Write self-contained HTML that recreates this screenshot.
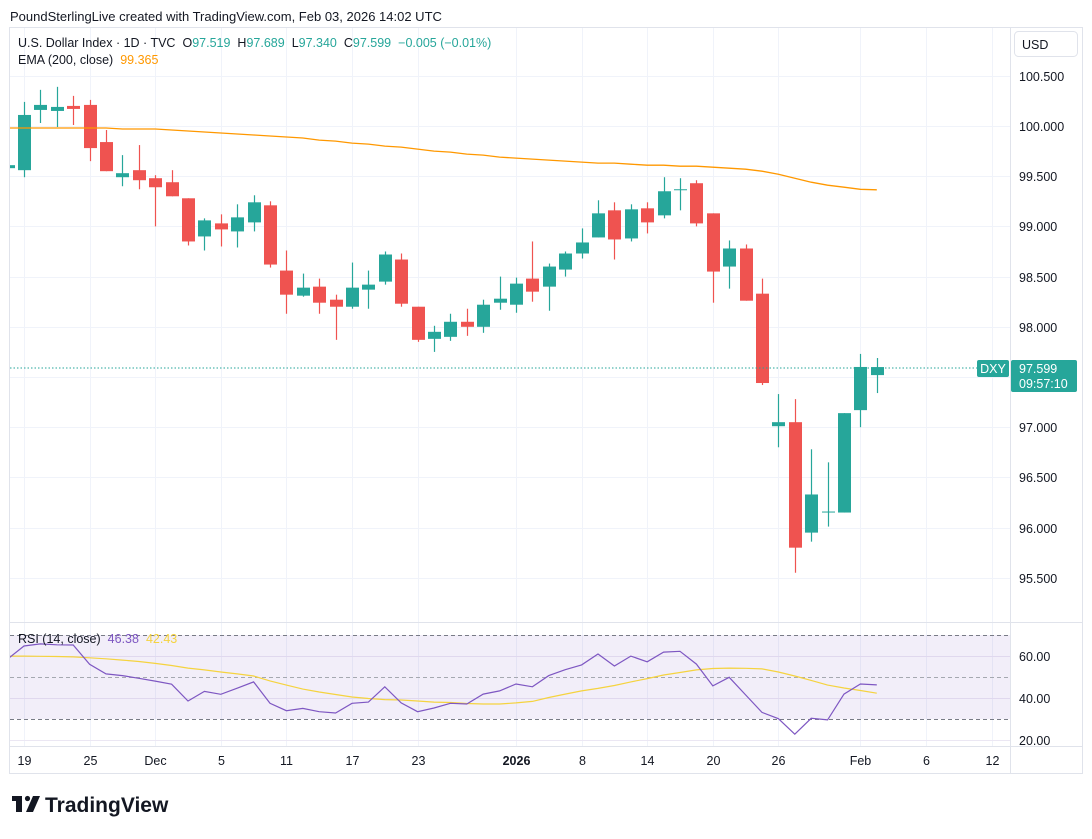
<!DOCTYPE html>
<html><head><meta charset="utf-8"><style>
html,body{margin:0;padding:0;background:#fff;}
body{width:1092px;height:834px;overflow:hidden;font-family:"Liberation Sans",sans-serif;}
svg text{font-family:"Liberation Sans",sans-serif;}
</style></head><body>
<svg id="chart" width="1092" height="834" xmlns="http://www.w3.org/2000/svg">
<rect x="0" y="0" width="1092" height="834" fill="#ffffff"/>
<text x="10" y="21" font-size="13" fill="#131722">PoundSterlingLive created with TradingView.com, Feb 03, 2026 14:02 UTC</text>
<rect x="9.5" y="27.5" width="1073" height="746" fill="none" stroke="#e0e3eb"/>
<g id="grid"></g>
<rect x="10" y="635" width="1000" height="84" fill="rgba(126,87,194,0.1)"/>
<g id="rsiLines"></g>
<line x1="10" y1="622.5" x2="1083" y2="622.5" stroke="#e0e3eb"/>
<line x1="10" y1="746.5" x2="1083" y2="746.5" stroke="#e0e3eb"/>
<line x1="1010.5" y1="28" x2="1010.5" y2="773" stroke="#e0e3eb"/>
<defs><clipPath id="mainClip"><rect x="10" y="28" width="1000" height="594"/></clipPath><clipPath id="rsiClip"><rect x="10" y="623" width="1000" height="123"/></clipPath></defs>
<g id="candles" clip-path="url(#mainClip)"></g>
<g id="ema" clip-path="url(#mainClip)"></g>
<g id="rsi" clip-path="url(#rsiClip)"></g>
<g id="axes"></g>
<g font-size="12.5">
<text x="18" y="47" fill="#131722">U.S. Dollar Index · 1D · TVC<tspan dx="7">O</tspan><tspan fill="#26a69a">97.519</tspan><tspan dx="7">H</tspan><tspan fill="#26a69a">97.689</tspan><tspan dx="7">L</tspan><tspan fill="#26a69a">97.340</tspan><tspan dx="7">C</tspan><tspan fill="#26a69a">97.599</tspan><tspan dx="7" fill="#26a69a">−0.005 (−0.01%)</tspan></text>
<text x="18" y="64" fill="#131722">EMA (200, close)<tspan dx="7" fill="#ff9800">99.365</tspan></text>
</g>
<g font-size="12.5">
<text x="18" y="643" fill="#131722">RSI (14, close)<tspan dx="7" fill="#7e57c2">46.38</tspan><tspan dx="7" fill="#f5d33f">42.43</tspan></text>
</g>
<rect x="1014.5" y="31.5" width="63" height="25" rx="4" fill="#fff" stroke="#e0e3eb"/>
<text x="1022" y="49" font-size="12.5" fill="#131722">USD</text>
<line x1="10" y1="368" x2="1010" y2="368" stroke="#26a69a" stroke-dasharray="1.5,2"/>
<rect x="977" y="360" width="32" height="17" rx="2" fill="#26a69a"/>
<text x="993" y="373" font-size="12.5" fill="#fff" text-anchor="middle">DXY</text>
<rect x="1011" y="360" width="66" height="32" rx="2" fill="#26a69a"/>
<text x="1019" y="373" font-size="12.5" fill="#fff">97.599</text>
<text x="1019" y="388" font-size="12.5" fill="#fff">09:57:10</text>
<g>
<rect x="12" y="796" width="10" height="5" fill="#131722"/><rect x="16" y="796" width="6" height="16" fill="#131722"/>
<circle cx="27.5" cy="798.5" r="2.6" fill="#131722"/>
<polygon points="33,796 40,796 33,812 26,812" fill="#131722"/>
<text x="45" y="812" font-size="21" font-weight="bold" fill="#131722">TradingView</text>
</g>
</svg>
<script>
// Price data (index -1 .. 52)
const opens  = [99.58,99.56,100.16,100.15,100.20,100.21,99.84,99.49,99.56,99.48,99.44,99.28,98.90,99.03,98.95,99.04,99.21,98.56,98.31,98.40,98.27,98.20,98.37,98.45,98.67,98.20,97.88,97.90,98.05,98.00,98.24,98.22,98.48,98.40,98.57,98.73,98.89,99.16,98.88,99.18,99.11,99.36,99.43,99.13,98.60,98.78,98.33,97.01,97.05,95.95,96.15,96.15,97.17,97.519];
const highs  = [99.62,100.24,100.36,100.39,100.30,100.26,99.96,99.71,99.81,99.51,99.56,99.28,99.08,99.12,99.22,99.31,99.25,98.76,98.53,98.48,98.32,98.64,98.56,98.75,98.73,98.20,98.01,98.13,98.18,98.27,98.50,98.49,98.85,98.63,98.75,98.98,99.26,99.24,99.22,99.24,99.49,99.48,99.46,99.13,98.86,98.82,98.48,97.33,97.28,96.78,96.65,97.14,97.73,97.689];
const lows   = [99.56,99.49,100.03,99.99,100.01,99.65,99.55,99.40,99.37,99.00,99.30,98.81,98.76,98.80,98.79,98.95,98.59,98.13,98.30,98.13,97.87,98.18,98.18,98.42,98.20,97.85,97.75,97.86,97.91,97.94,98.17,98.14,98.25,98.16,98.50,98.68,98.89,98.67,98.85,98.93,99.08,99.16,99.00,98.24,98.38,98.26,97.42,96.80,95.55,95.86,96.01,96.15,97.00,97.340];
const closes = [99.61,100.11,100.21,100.19,100.17,99.78,99.55,99.53,99.46,99.39,99.30,98.85,99.06,98.97,99.09,99.24,98.62,98.32,98.39,98.24,98.20,98.39,98.42,98.72,98.23,97.87,97.95,98.05,98.00,98.22,98.28,98.43,98.35,98.60,98.73,98.84,99.13,98.87,99.17,99.04,99.35,99.37,99.03,98.55,98.78,98.26,97.44,97.05,95.80,96.33,96.16,97.14,97.60,97.599];
const emaValues = [99.98,99.98,99.98,99.98,99.98,99.98,99.98,99.97,99.97,99.97,99.96,99.95,99.94,99.93,99.92,99.91,99.90,99.89,99.88,99.86,99.85,99.83,99.82,99.80,99.79,99.77,99.75,99.74,99.72,99.71,99.69,99.68,99.67,99.66,99.65,99.64,99.63,99.63,99.62,99.61,99.61,99.60,99.60,99.59,99.58,99.57,99.55,99.52,99.48,99.44,99.41,99.39,99.37,99.365];
const rsiValues = [58.7,64.9,65.9,65.5,65.4,56.2,51.6,50.8,49.5,48.2,46.7,38.7,43.3,41.9,44.8,47.8,37.6,34.1,35.2,33.6,33.0,37.6,38.2,45.5,37.8,33.6,35.4,37.6,37.3,42.0,43.5,46.8,45.5,50.8,53.6,55.9,61.1,55.4,60.1,57.4,62.0,62.4,56.3,45.9,50.0,41.6,33.3,30.3,22.9,30.5,29.7,42.0,46.8,46.38];
const rsiMaValues = [60.1,60.1,60.0,59.9,59.7,59.3,58.8,58.2,57.5,56.6,55.6,54.4,53.5,52.5,51.6,50.6,48.3,46.3,44.4,43.0,41.8,40.6,39.9,39.4,39.2,38.7,38.2,38.0,37.5,37.3,37.3,37.8,38.5,40.4,42.0,43.5,44.7,46.1,47.8,49.4,51.1,52.3,53.5,54.2,54.4,54.3,54.0,52.5,50.6,48.5,46.3,44.9,43.7,42.43];
const priceTicks = [100.5,100.0,99.5,99.0,98.5,98.0,97.5,97.0,96.5,96.0,95.5];
const rsiTicks = [60,40,20];
const timeLabels = ["19","25","Dec","5","11","17","23","2026","8","14","20","26","Feb","6","12"];
const timeLabelIndex = [0,4,8,12,16,20,24,30,34,38,42,46,51,55,59];

const NS="http://www.w3.org/2000/svg";
function xOf(i){return 24+16.4*i;}           // i = bar index (0 = Nov 19)
function yP(p){return 126+(100-p)*100.4;}
function yR(v){return 677.3-(v-50)*2.1;}
function mk(tag,attrs,parent){const e=document.createElementNS(NS,tag);for(const k in attrs)e.setAttribute(k,attrs[k]);parent.appendChild(e);return e;}
const grid=document.getElementById('grid');
const axes=document.getElementById('axes');
// vertical grid & time labels
timeLabels.forEach((t,j)=>{
  const x=Math.round(xOf(timeLabelIndex[j]))+0.5;
  const gl=mk('line',{x1:x,y1:28,x2:x,y2:746,stroke:'#f0f3fa'},grid);
  
  
  const tx=mk('text',{x:x,y:765,'font-size':12.5,'text-anchor':'middle',fill:'#131722','font-weight':t==='2026'?'bold':'normal'},axes);
  tx.textContent=t;
  
  
});
// price grid & labels
priceTicks.forEach(p=>{
  const y=Math.round(yP(p))+0.5;
  const gl=mk('line',{x1:10,y1:y,x2:1010,y2:y,stroke:'#f0f3fa'},grid);
  
  
  const tx=mk('text',{x:1019,y:y+4.5,'font-size':12.5,fill:'#131722'},axes);
  tx.textContent=p.toFixed(3);
  
  
});
// rsi grid & labels
rsiTicks.forEach(v=>{
  const y=Math.round(yR(v))+0.5;
  const gl=mk('line',{x1:10,y1:y,x2:1010,y2:y,stroke:'#ebe7f3'},grid);
  
  
  const tx=mk('text',{x:1019,y:y+4.5,'font-size':12.5,fill:'#131722'},axes);
  tx.textContent=v.toFixed(2);
  
  
});
const rl=document.getElementById('rsiLines');
[[70,'#787b86','4,3'],[50,'#a5a8b0','4,3'],[30,'#787b86','4,3']].forEach(a=>{
  const y=Math.round(yR(a[0]))+0.5;
  const l=mk('line',{x1:10,y1:y,x2:1010,y2:y,stroke:a[1],'stroke-dasharray':a[2]},rl);
  
  
});
// candles
const cg=document.getElementById('candles');
for(let k=0;k<opens.length;k++){
  const i=k-1, x=xOf(i);
  const up=closes[k]>=opens[k];
  const col=up?'#26a69a':'#ef5350';
  const g=mk('g',{},cg);
  
  
  mk('line',{x1:Math.round(x)+0.5,y1:yP(highs[k]),x2:Math.round(x)+0.5,y2:yP(lows[k]),stroke:col,'stroke-width':1.2},g);
  const top=yP(Math.max(opens[k],closes[k])), bot=yP(Math.min(opens[k],closes[k]));
  mk('rect',{x:Math.round(x)-6,y:top,width:13,height:Math.max(1,bot-top),fill:col},g);
}
// EMA
let d='';
emaValues.forEach((v,k)=>{d+=(k?'L':'M')+xOf(k-1).toFixed(1)+','+yP(v).toFixed(1);});
const ep=mk('path',{d:d,fill:'none',stroke:'#ff9800','stroke-width':1.3},document.getElementById('ema'));


// RSI
const rg=document.getElementById('rsi');
let d2='',d3='';
rsiMaValues.forEach((v,k)=>{d3+=(k?'L':'M')+xOf(k-1).toFixed(1)+','+yR(v).toFixed(1);});
rsiValues.forEach((v,k)=>{d2+=(k?'L':'M')+xOf(k-1).toFixed(1)+','+yR(v).toFixed(1);});
const mp=mk('path',{d:d3,fill:'none',stroke:'#f5d33f','stroke-width':1.2},rg);


const rp=mk('path',{d:d2,fill:'none',stroke:'#7e57c2','stroke-width':1.2},rg);


</script>
</body></html>
